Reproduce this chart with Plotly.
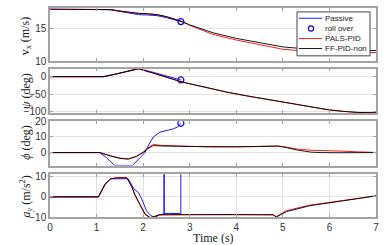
import plotly.graph_objects as go
from plotly.subplots import make_subplots

# ---------------- data ----------------
# longitudinal velocity v_x (m/s)
t_vx_pas = [0, 1.1, 1.3, 1.5, 1.7, 1.9, 2.1, 2.3, 2.5, 2.81]
vx_pas = [17.9, 17.9, 17.8, 17.55, 17.25, 17.05, 17.0, 16.9, 16.6, 16.0]
t_vx = [0, 1.1, 1.3, 1.5, 1.7, 1.9, 2.1, 2.3, 2.5, 2.8, 3.0, 3.5, 4.0, 4.5, 5.0, 5.5, 6.0, 6.5, 7.0]
vx_pals = [17.9, 17.9, 17.82, 17.6, 17.4, 17.25, 17.18, 17.05, 16.75, 16.1, 15.45, 14.05, 13.2, 12.45, 11.8, 11.48, 11.37, 11.33, 11.3]
vx_ff = [17.9, 17.9, 17.82, 17.6, 17.4, 17.25, 17.18, 17.05, 16.75, 16.1, 15.5, 14.3, 13.45, 12.75, 12.15, 11.85, 11.7, 11.65, 11.6]

# yaw angle psi (deg)
t_psi_pas = [0, 1.15, 1.4, 1.65, 1.9, 2.2, 2.5, 2.81]
psi_pas = [0, 0, 7, 15, 23, 13, 3, -9.4]
t_psi = [0, 1.15, 1.4, 1.65, 1.9, 2.2, 2.5, 2.81, 3.0, 3.43, 3.8, 4.2, 4.6, 5.0, 5.2, 5.6, 6.0, 6.3, 6.6, 7.0]
psi_pals = [0, 0, 7, 15, 22.5, 10.5, -2.5, -14.5, -20.5, -34.5, -44.5, -54.5, -63.5, -73, -78, -87, -95, -99, -102, -103]
psi_ff = [0, 0, 7, 15, 22.5, 11, -2, -14, -20, -34, -44, -54, -63, -73, -78, -87, -95, -99, -102, -103]

# roll angle phi (deg)
t_phi_pas = [0, 1.07, 1.2, 1.39, 1.77, 1.9, 2.04, 2.12, 2.22, 2.36, 2.5, 2.65, 2.75, 2.81]
phi_pas = [0, 0, -3, -8.2, -8.2, -4, 0, 5, 10, 13, 14, 15.2, 16.5, 18.7]
t_phi = [0, 1.07, 1.3, 1.5, 1.68, 1.85, 2.0, 2.1, 2.22, 2.4, 3.0, 3.5, 4.0, 4.5, 4.9, 5.1, 5.3, 5.6, 5.8, 6.2, 6.6, 7.0]
phi_pals = [0, 0, -2.0, -3.5, -4.0, -2.5, 0.3, 3.0, 5.2, 4.6, 4.0, 3.6, 3.7, 3.9, 4.2, 3.4, 2.3, 1.5, 1.2, 1.0, 0.5, 0.1]
phi_ff = [0, 0, -2.2, -3.7, -4.2, -2.5, 0, 2.5, 4.5, 4.2, 3.9, 3.6, 3.7, 3.9, 4.2, 3.0, 1.7, 0.3, 0, -0.1, -0.1, 0]

# lateral acceleration a_y (m/s^2)
t_ay_pas = [0, 1.04, 1.18, 1.3, 1.45, 1.6, 1.68, 1.8, 1.9, 1.97, 2.07, 2.15, 2.25, 2.35,
            2.449, 2.45, 2.451, 2.55, 2.7, 2.809, 2.81]
ay_pas = [0, 0, 6.0, 9.0, 9.0, 9.2, 9.0, 4.0, 2.1, -1.1, -6.8, -9.0, -10.4, -8.9,
          -8.5, 40, -8.3, -8.2, -8.3, -8.3, 40]
t_ay = [0, 1.04, 1.18, 1.3, 1.45, 1.65, 1.75, 1.82, 1.93, 2.04, 2.15, 2.25, 2.35, 3.0, 4.0, 4.79, 4.86, 5.08, 5.58, 6.29, 7.0]
ay_pals = [0, 0, 6.4, 9.0, 9.5, 9.5, 5.2, 1.0, -4.0, -8.8, -10.3, -9.6, -8.9, -8.8, -8.8, -8.9, -9.8, -6.8, -4.1, -1.9, 0.5]
ay_ff = [0, 0, 6.2, 9.0, 9.5, 9.5, 5.5, 1.3, -3.6, -8.4, -10.3, -9.8, -8.9, -8.8, -8.8, -8.9, -10.0, -7.3, -4.4, -1.95, 0.5]

# roll-over instant
t_roll = [2.81]
vx_roll = [16.0]
psi_roll = [-9.4]
phi_roll = [18.7]

x_ticks = [0, 1, 2, 3, 4, 5, 6, 7]
legend_names = ["Passive", "roll over", "PALS-PID", "FF-PID-non"]

# ---------------- figure ----------------
BLUE = "#0000ff"
RED = "#ff0000"
BLACK = "#000000"
LW = 0.9

fig = make_subplots(rows=4, cols=1, shared_xaxes=False)

panels = [
    (t_vx_pas, vx_pas, t_vx, vx_pals, vx_ff, vx_roll),
    (t_psi_pas, psi_pas, t_psi, psi_pals, psi_ff, psi_roll),
    (t_phi_pas, phi_pas, t_phi, phi_pals, phi_ff, phi_roll),
    (t_ay_pas, ay_pas, t_ay, ay_pals, ay_ff, None),
]

for i, (tp, yp, tc, yr, yk, yroll) in enumerate(panels):
    row = i + 1
    fig.add_trace(go.Scatter(x=tp, y=yp, mode="lines", name=legend_names[0],
                             line=dict(color=BLUE, width=LW), showlegend=False), row=row, col=1)
    if yroll is not None:
        fig.add_trace(go.Scatter(x=t_roll, y=yroll, mode="markers", name=legend_names[1],
                                 marker=dict(symbol="circle-open", color=BLUE, size=6,
                                             line=dict(width=1.2, color=BLUE)),
                                 showlegend=False), row=row, col=1)
    fig.add_trace(go.Scatter(x=tc, y=yr, mode="lines", name=legend_names[2],
                             line=dict(color=RED, width=LW), showlegend=False), row=row, col=1)
    fig.add_trace(go.Scatter(x=tc, y=yk, mode="lines", name=legend_names[3],
                             line=dict(color=BLACK, width=LW), showlegend=False), row=row, col=1)

# plot area spans y = 3 .. 217 px and x = 50 .. 376 px
def px(xp):
    return (xp - 50) / 326.0

def py(yp):
    return (217 - yp) / 214.0

domains = [(0.746, 0.998), (0.497, 0.710), (0.246, 0.458), (0.0, 0.204)]
yranges = [[10, 18], [-104, 23], [-8.3, 20], [-10, 11.2]]
yticks = [[10, 15], [-100, -50, 0], [0, 10, 20], [-10, 0, 10]]

FRAME = "#a3a3a3"
GRID = "#e3e3e3"
TICKFONT = dict(family="Liberation Sans, Arial, sans-serif", size=10, color="#333333")

for i in range(4):
    ax = "" if i == 0 else str(i + 1)
    fig.layout["yaxis" + ax].update(
        domain=list(domains[i]), range=yranges[i], tickvals=yticks[i],
        showgrid=True, gridcolor=GRID, gridwidth=1, zeroline=False,
        showline=True, linecolor=FRAME, linewidth=1.5, mirror="ticks",
        ticks="inside", ticklen=3, tickcolor=FRAME, tickfont=TICKFONT,
    )
    fig.layout["xaxis" + ax].update(
        range=[0, 7], tickvals=x_ticks, showticklabels=(i == 3),
        showgrid=(i == 3), gridcolor=GRID, gridwidth=1, zeroline=False,
        showline=True, linecolor=FRAME, linewidth=1.5, mirror="ticks",
        ticks="inside", ticklen=3, tickcolor=FRAME, tickfont=TICKFONT,
    )

SERIF = dict(family="Liberation Serif, DejaVu Serif, serif", size=12, color="#222222")
ylabels = [
    ("v<sub>x</sub> (m/s)", 32),
    ("<i>ψ</i> (deg)", 88),
    ("<i>ϕ</i> (deg)", 141),
    ("<i>a</i><sub><i>y</i></sub> (m/s<sup>2</sup>)", 196),
]
annotations = []
for txt, ypx in ylabels:
    annotations.append(dict(
        text=txt, xref="paper", yref="paper",
        x=px(26), y=py(ypx),
        xanchor="center", yanchor="middle", textangle=-90,
        showarrow=False, font=SERIF,
    ))
annotations.append(dict(
    text="Time (s)", xref="paper", yref="paper",
    x=0.5, y=py(239), xanchor="center", yanchor="middle",
    showarrow=False, font=SERIF,
))

# ---- legend box (drawn manually to match the compact MATLAB legend) ----
LEGFONT = dict(family="Liberation Sans, Arial, sans-serif", size=8, color="#222222")
shapes = [dict(type="rect", xref="paper", yref="paper",
               x0=px(297), x1=px(370), y0=py(52), y1=py(7),
               line=dict(color="#444444", width=1), fillcolor="white", layer="above")]
leg_colors = [BLUE, BLUE, RED, BLACK]
leg_y = [13.5, 24, 34.3, 44.5]
for name, col, ly in zip(legend_names, leg_colors, leg_y):
    if name == "roll over":
        shapes.append(dict(type="circle", xref="paper", yref="paper",
                           xsizemode="pixel", ysizemode="pixel",
                           xanchor=px(311), yanchor=py(ly),
                           x0=-2.6, x1=2.6, y0=-2.6, y1=2.6,
                           line=dict(color=col, width=1.1), layer="above"))
    else:
        shapes.append(dict(type="line", xref="paper", yref="paper",
                           x0=px(299), x1=px(322), y0=py(ly), y1=py(ly),
                           line=dict(color=col, width=0.9), layer="above"))
    annotations.append(dict(text=name, xref="paper", yref="paper",
                            x=px(323), y=py(ly), xanchor="left", yanchor="middle",
                            showarrow=False, font=LEGFONT))

fig.update_layout(
    width=390, height=245,
    margin=dict(l=50, r=14, t=3, b=28),
    paper_bgcolor="white", plot_bgcolor="white",
    annotations=annotations,
    shapes=shapes,
    showlegend=False,
)

fig.write_html("out.html",
               config={"displayModeBar": False},
               post_script="document.body.style.margin='0';document.body.style.padding='0';")
